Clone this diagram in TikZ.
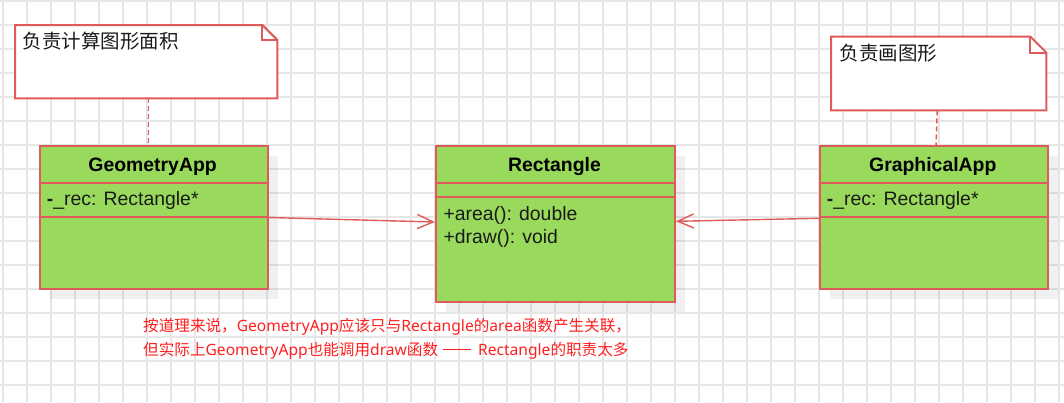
\documentclass[tikz,border=0pt]{standalone}
\usepackage{fontspec}
\setmainfont{Liberation Sans}
\newfontfamily\cjk{Noto Sans CJK SC}
\newfontfamily\lat{Noto Sans}
\usetikzlibrary{arrows.meta,calc,shadows}
\definecolor{gridc}{HTML}{E6E6E6}
\definecolor{boxred}{HTML}{DF5B5B}
\definecolor{boxgreen}{HTML}{99D95C}
\definecolor{txtred}{HTML}{FF1F1F}
\definecolor{txtdark}{HTML}{1A1A1A}
\begin{document}
\begin{tikzpicture}[x=1pt,y=-1pt,
  gridline/.style={draw=gridc,line width=1.6pt},
  classbox/.style={draw=boxred,line width=2pt,fill=boxgreen,anchor=north west,inner sep=0pt,
    general shadow={fill=black,opacity=0.06,shadow xshift=10pt,shadow yshift=-10pt}},
  divline/.style={draw=boxred,line width=2pt},
  notebox/.style={draw=none,anchor=north west,inner sep=0pt},
  noteline/.style={draw=boxred,line width=2pt,fill=white,line join=miter},
  notelink/.style={draw=boxred,line width=1.5pt,dash pattern=on 5pt off 3pt},
  assoc/.style={draw=boxred,line width=1.4pt,-{Straight Barb[length=16pt,width=14pt]}},
  ctitle/.style={font=\bfseries\fontsize{19.4}{23}\selectfont,text=black,inner sep=0pt,anchor=base},
  cattr/.style={font=\fontsize{19.4}{23}\selectfont,text=txtdark,inner sep=0pt,anchor=base west},
  notetext/.style={font=\cjk\fontsize{19.5}{23}\selectfont,text=txtdark,inner sep=0pt,anchor=west},
  redtext/.style={font=\fontsize{15.6}{19}\selectfont,text=txtred,inner sep=0pt,anchor=base west}
]
\useasboundingbox (0,0) rectangle (1064,402);
% grid
\foreach \i in {0,...,44} \draw[gridline] (3+24*\i,0) -- (3+24*\i,402);
\foreach \j in {0,...,16} \draw[gridline] (0,1+24*\j) -- (1064,1+24*\j);

% class boxes
\node[classbox,minimum width=228pt,minimum height=143pt] (geo) at (38.5,145) {};
\node[classbox,minimum width=239pt,minimum height=156pt] (rect) at (435,145) {};
\node[classbox,minimum width=228pt,minimum height=143pt] (graph) at (819,145) {};

% dividers
\draw[divline] ($(geo.north west)+(0,37.7)$) -- ($(geo.north east)+(0,37.7)$);
\draw[divline] ($(geo.north west)+(0,72)$) -- ($(geo.north east)+(0,72)$);
\draw[divline] ($(rect.north west)+(0,37.7)$) -- ($(rect.north east)+(0,37.7)$);
\draw[divline] ($(rect.north west)+(0,52.3)$) -- ($(rect.north east)+(0,52.3)$);
\draw[divline] ($(graph.north west)+(0,37.7)$) -- ($(graph.north east)+(0,37.7)$);
\draw[divline] ($(graph.north west)+(0,72)$) -- ($(graph.north east)+(0,72)$);

% class texts
\node[ctitle] (geot) at (152.6,171.5) {GeometryApp};
\node[cattr] (geoa) at (46.7,205) {{\bfseries -}\_rec: Rectangle*};
\node[ctitle] (rectt) at (554.5,171.5) {Rectangle};
\node[cattr] (rectm1) at (443.3,220) {+area(): double};
\node[cattr] (rectm2) at (443.3,243.3) {+draw(): void};
\node[ctitle] (grapht) at (932.8,171.5) {GraphicalApp};
\node[cattr] (grapha) at (826.7,205) {{\bfseries -}\_rec: Rectangle*};

% notes
\node[notebox,minimum width=262pt,minimum height=73pt] (lnote) at (15,25) {};
\node[notebox,minimum width=215pt,minimum height=73.3pt] (rnote) at (831,36.7) {};
\draw[noteline] (lnote.north west) -- ($(lnote.north east)+(-15,0)$) -- ($(lnote.north east)+(0,15)$) -- (lnote.south east) -- (lnote.south west) -- cycle;
\draw[noteline,fill=none] ($(lnote.north east)+(-15,0)$) -- ($(lnote.north east)+(-15,15)$) -- ($(lnote.north east)+(0,15)$);
\draw[noteline] (rnote.north west) -- ($(rnote.north east)+(-16,0)$) -- ($(rnote.north east)+(0,16)$) -- (rnote.south east) -- (rnote.south west) -- cycle;
\draw[noteline,fill=none] ($(rnote.north east)+(-16,0)$) -- ($(rnote.north east)+(-16,16)$) -- ($(rnote.north east)+(0,16)$);
\node[notetext] (lnotet) at (22.7,41.5) {负责计算图形面积};
\node[notetext] (rnotet) at (839.3,53) {负责画图形};

% note links
\draw[notelink] (lnote.south -| 148.3,0) -- (geo.north -| 148.3,0);
\draw[notelink] (rnote.south -| 937.3,0) -- (graph.north -| 936,0);

% associations
\draw[assoc] ($(geo.north east)+(0,72.5)$) -- ($(rect.north west)+(0,77)$);
\draw[assoc] ($(graph.north west)+(0,73.3)$) -- ($(rect.north east)+(0,76.3)$);

% red comment
\node[redtext] (c1) at (143,331) {{\cjk 按道理来说，}{\lat GeometryApp}{\cjk 应该只与}{\lat Rectangle}{\cjk 的}{\lat area}{\cjk 函数产生关联，}};
\node[redtext] (c2) at (143,355) {{\cjk 但实际上}{\lat GeometryApp}{\cjk 也能调用}{\lat draw}{\cjk 函数}\hspace{5pt}\rule[4.6pt]{28pt}{1pt}\hspace{7pt}{\lat Rectangle}{\cjk 的职责太多}};
\end{tikzpicture}
\end{document}
